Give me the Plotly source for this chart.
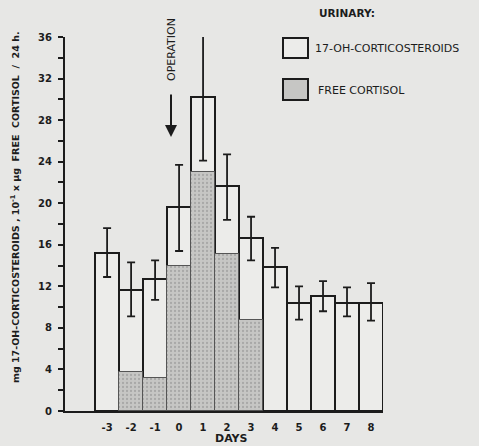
import plotly.graph_objects as go

# ---- data ----
days = [-3, -2, -1, 0, 1, 2, 3, 4, 5, 6, 7, 8]
day_labels = ["-3", "-2", "-1", "0", "1", "2", "3", "4", "5", "6", "7", "8"]
steroids = [15.2, 11.6, 12.7, 19.6, 30.2, 21.7, 16.7, 13.9, 10.4, 11.1, 10.4, 10.4]
steroids_upper = [17.6, 14.3, 14.5, 23.7, 36.2, 24.7, 18.7, 15.7, 12.0, 12.5, 11.9, 12.3]
steroids_lower = [12.9, 9.1, 10.7, 15.4, 24.1, 18.4, 14.5, 11.9, 8.8, 9.6, 9.1, 8.7]
cortisol_days = [-2, -1, 0, 1, 2, 3]
cortisol = [3.8, 3.2, 14.0, 23.0, 15.1, 8.8]
y_ticks = [0, 4, 8, 12, 16, 20, 24, 28, 32, 36]

BG = "#e7e7e5"
INK = "#1c1c1c"
SHADE = "#c6c6c4"

err_plus = [u - v for u, v in zip(steroids_upper, steroids)]
err_minus = [v - l for v, l in zip(steroids, steroids_lower)]

fig = go.Figure()
fig.add_trace(go.Bar(
    x=days, y=steroids, width=1.0,
    marker=dict(color="#ececea", line=dict(color=INK, width=2)),
    error_y=dict(type="data", symmetric=False, array=err_plus, arrayminus=err_minus,
                 color=INK, thickness=1.8, width=4),
    cliponaxis=False, showlegend=False,
))
fig.add_trace(go.Bar(
    x=cortisol_days, y=cortisol, width=1.0,
    marker=dict(color=SHADE, line=dict(color="#555555", width=1),
                pattern=dict(shape=".", fgcolor="#8a8a8a", bgcolor=SHADE, size=4, solidity=0.25)),
    showlegend=False,
))

# plot-area pixel geometry for decorations
L, R, T, B = 65, 383, 37, 411
W, H = R - L, B - T
def px(x):
    return (x - L) / W
def py(y):
    return (B - y) / H

font_b = "DejaVu Sans"
C = dict(xanchor="center", yanchor="middle")
annotations = [
    dict(x=px(15), y=py(207), xref="paper", yref="paper", textangle=-90,
         text="mg 17-OH-CORTICOSTEROIDS , 10<sup>-1</sup> x µg  FREE  CORTISOL  /  24 h.",
         showarrow=False, font=dict(family=font_b, size=9.5, color=INK, weight="bold"), **C),
    dict(x=px(231), y=py(438), xref="paper", yref="paper", text="DAYS", showarrow=False,
         font=dict(family=font_b, size=11, color=INK, weight="bold"), **C),
    dict(x=px(171), y=py(50), xref="paper", yref="paper", textangle=-90, text="OPERATION",
         showarrow=False, font=dict(family=font_b, size=11, color=INK), **C),
    dict(x=px(171), y=py(137), xref="paper", yref="paper", text="", showarrow=True,
         ax=0, ay=-44, arrowhead=2, arrowsize=1.2, arrowwidth=2, arrowcolor=INK),
    dict(x=px(317), y=py(13), xref="paper", yref="paper", text="URINARY:", showarrow=False,
         xanchor="left", yanchor="middle", font=dict(family=font_b, size=10.5, color=INK, weight="bold")),
    dict(x=px(313), y=py(48), xref="paper", yref="paper", text="17-OH-CORTICOSTEROIDS",
         showarrow=False, xanchor="left", yanchor="middle", font=dict(family=font_b, size=11, color=INK)),
    dict(x=px(316), y=py(90), xref="paper", yref="paper", text="FREE CORTISOL",
         showarrow=False, xanchor="left", yanchor="middle", font=dict(family=font_b, size=11, color=INK)),
]
shapes = [
    dict(type="rect", xref="paper", yref="paper", x0=px(283), x1=px(308), y0=py(58), y1=py(38),
         line=dict(color=INK, width=2), fillcolor="#ececea"),
    dict(type="rect", xref="paper", yref="paper", x0=px(283), x1=px(308), y0=py(100), y1=py(79),
         line=dict(color=INK, width=2), fillcolor=SHADE),
]

fig.update_layout(
    width=479, height=446,
    margin=dict(l=L, r=479 - R, t=T, b=446 - B),
    paper_bgcolor=BG, plot_bgcolor=BG,
    barmode="overlay", bargap=0,
    annotations=annotations, shapes=shapes,
    xaxis=dict(range=[-4.755, 8.5], tickvals=days, ticktext=day_labels, showline=True,
               linecolor=INK, linewidth=2, showgrid=False, zeroline=False, ticks="",
               ticklabelstandoff=6,
               tickfont=dict(family=font_b, size=10, color=INK, weight="bold"), fixedrange=True),
    yaxis=dict(range=[0, 36], tickvals=y_ticks, showline=True, linecolor=INK, linewidth=2,
               showgrid=False, zeroline=False, ticks="outside", ticklen=5, tickwidth=1.5,
               tickcolor=INK, ticklabelstandoff=4,
               minor=dict(dtick=2, ticks="outside", ticklen=5, tickwidth=1.5, tickcolor=INK),
               tickfont=dict(family=font_b, size=10, color=INK, weight="bold"), fixedrange=True),
)

fig.write_html("out.html")
